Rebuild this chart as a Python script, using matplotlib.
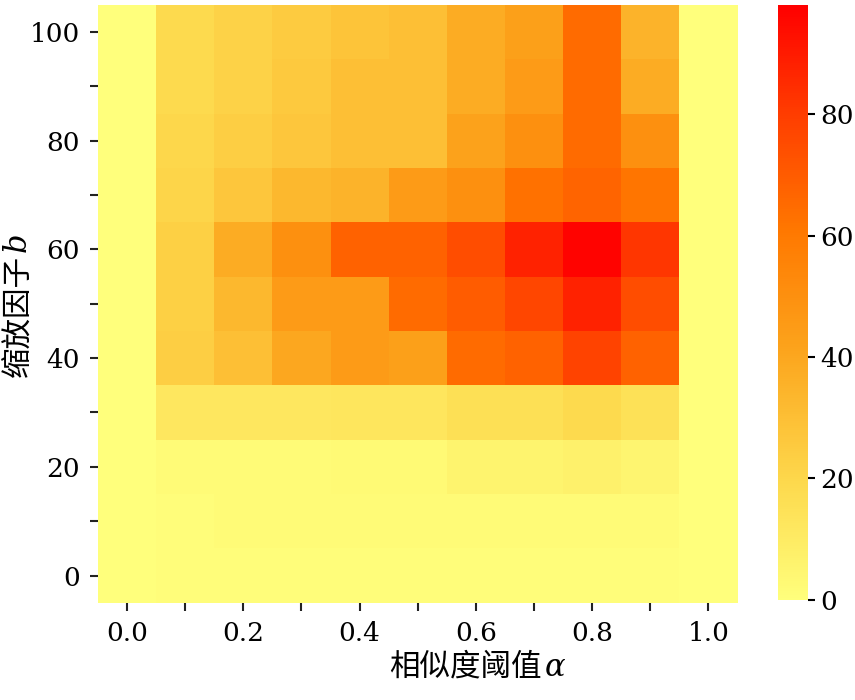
import numpy as np
import matplotlib
matplotlib.use("Agg")
import matplotlib.pyplot as plt
from matplotlib.colors import LinearSegmentedColormap

plt.rcParams['font.family'] = ['DejaVu Serif', 'Noto Sans CJK SC']
plt.rcParams['mathtext.fontset'] = 'dejavuserif'

alpha_vals = [0.0, 0.1, 0.2, 0.3, 0.4, 0.5, 0.6, 0.7, 0.8, 0.9, 1.0]
b_vals = [0, 10, 20, 30, 40, 50, 60, 70, 80, 90, 100]

# rows follow b_vals (b = 0 first), columns follow alpha_vals
row_b0 = [0, 1, 1, 1, 1, 1, 1, 1, 1, 1, 0]
row_b10 = [0, 1, 2, 2, 2, 2, 2, 2, 2, 2, 0]
row_b20 = [0, 2, 2, 2, 3, 3, 6, 6, 7, 5, 0]
row_b30 = [0, 12, 12, 12, 13, 13, 16, 16, 19, 15, 0]
row_b40 = [0, 24, 30, 40, 45, 43, 65, 68, 78, 68, 0]
row_b50 = [0, 23, 33, 45, 45, 65, 70, 77, 88, 75, 0]
row_b60 = [0, 23, 38, 50, 68, 68, 75, 88, 97, 82, 0]
row_b70 = [0, 21, 27, 33, 35, 45, 50, 63, 67, 62, 0]
row_b80 = [0, 20, 24, 27, 30, 30, 42, 50, 65, 50, 0]
row_b90 = [0, 19, 22, 26, 30, 30, 38, 45, 65, 38, 0]
row_b100 = [0, 19, 22, 25, 28, 30, 38, 43, 65, 35, 0]

data = np.array([row_b0, row_b10, row_b20, row_b30, row_b40, row_b50,
                 row_b60, row_b70, row_b80, row_b90, row_b100], dtype=float)

cmap = LinearSegmentedColormap.from_list(
    'yor', [(0.0, '#ffff7c'), (0.2, '#fdd84c'), (0.42, '#fca41c'),
            (0.62, '#ff7800'), (0.82, '#ff3c00'), (1.0, '#ff0000')])

fig = plt.figure(figsize=(8.55, 7.0), dpi=100)
ax = fig.add_axes([0.1146, 0.139, 0.748, 0.854])
cax = fig.add_axes([0.910, 0.143, 0.035, 0.850])

x_edges = np.arange(len(alpha_vals) + 1) * 0.1 - 0.05
y_edges = np.arange(len(b_vals) + 1) * 10 - 5
mesh = ax.pcolormesh(x_edges, y_edges, data, cmap=cmap, vmin=0, vmax=98)

ax.set_xlim(-0.05, 1.05)
ax.set_ylim(-5, 105)
for s in ax.spines.values():
    s.set_visible(False)

ax.set_xticks(alpha_vals)
ax.set_xticklabels([f'{v:.1f}' if i % 2 == 0 else '' for i, v in enumerate(alpha_vals)])
ax.set_yticks(b_vals)
ax.set_yticklabels([str(v) if i % 2 == 0 else '' for i, v in enumerate(b_vals)])
ax.tick_params(axis='both', direction='out', length=6, width=1.5, pad=7,
               labelsize=19, color='#222222')

# axis labels: Chinese part and italic symbol drawn as two texts
cjk = ['Noto Sans CJK SC', 'DejaVu Serif']
fig.text(0.633, 0.047, '相似度阈值', family=cjk, fontsize=22,
         ha='right', va='center')
fig.text(0.636, 0.047, r'$\alpha$', fontsize=22, ha='left', va='center')
fig.text(0.022, 0.636, '缩放因子', family=cjk, fontsize=22,
         rotation=90, ha='center', va='top')
fig.text(0.022, 0.637, r'$b$', fontsize=22, rotation=90,
         ha='center', va='bottom')

cb = fig.colorbar(mesh, cax=cax, ticks=[0, 20, 40, 60, 80])
cb.outline.set_visible(False)
cb.ax.tick_params(direction='out', length=5, width=1.5, labelsize=19, pad=4)

fig.savefig('out.png', dpi=100)
